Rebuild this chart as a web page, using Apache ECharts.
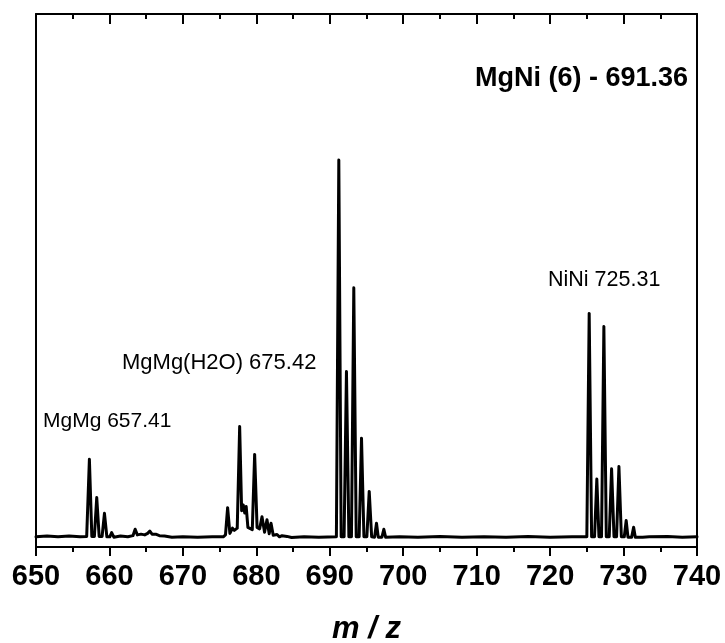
<!DOCTYPE html>
<html>
<head>
<meta charset="utf-8">
<title>MgNi (6) mass spectrum</title>
<script src="https://cdn.jsdelivr.net/npm/echarts@6/dist/echarts.min.js"></script>
<style>
  html, body { margin: 0; padding: 0; background: #ffffff; }
  #chart { width: 725px; height: 643px; }
</style>
</head>
<body>
<div id="chart"></div>
<script>
// m/z axis ticks
const mzTicks = [650, 660, 670, 680, 690, 700, 710, 720, 730, 740];

// Spectrum profile, [m/z, relative intensity], one array per region
const baselineStart = [[650.0, 0.3], [651.5, 0.5], [653.0, 0.3], [654.5, 0.5], [656.0, 0.3]];
const clusterMgMg = [
  [656.9, 0.4], [657.27, 20.8], [657.6, 0.4], [657.95, 0.4], [658.27, 10.7], [658.6, 0.4],
  [659.0, 0.4], [659.32, 6.5], [659.65, 0.3], [660.05, 0.3], [660.3, 1.4], [660.6, 0.2],
  [661.5, 0.5], [662.5, 0.3], [663.2, 0.6], [663.5, 2.3], [663.8, 0.8], [664.3, 1.0],
  [664.8, 0.8], [665.2, 1.2], [665.5, 1.8], [665.8, 1.0], [666.3, 1.0], [666.8, 0.6],
  [667.5, 0.5], [668.5, 0.2]
];
const baselineMid1 = [[670.0, 0.3], [672.0, 0.2], [674.0, 0.3]];
const clusterMgMgH2O = [
  [675.5, 0.3], [675.8, 0.8], [676.09, 8.0], [676.4, 1.2], [676.75, 2.6], [677.0, 2.0],
  [677.4, 2.6], [677.73, 29.5], [678.0, 7.2], [678.22, 8.7], [678.42, 6.6], [678.62, 8.3],
  [678.85, 2.8], [679.45, 2.2], [679.77, 22.1], [680.1, 2.8], [680.45, 2.4], [680.77, 5.6],
  [681.12, 1.5], [681.45, 4.8], [681.75, 1.1], [682.0, 3.9], [682.3, 0.7], [682.82, 0.9],
  [683.15, 0.3], [683.5, 0.6], [684.18, 0.4], [684.8, 0.1]
];
const baselineMid2 = [[686.5, 0.3], [688.5, 0.2]];
const clusterMgNi = [
  [690.9, 0.3], [691.23, 100.0], [691.55, 0.3], [691.95, 0.3], [692.27, 44.0], [692.6, 0.3],
  [692.95, 0.3], [693.27, 66.2], [693.6, 0.3], [694.0, 0.3], [694.32, 26.4], [694.65, 0.3],
  [695.05, 0.3], [695.37, 12.3], [695.7, 0.3], [696.1, 0.2], [696.36, 3.9], [696.6, 0.2],
  [697.1, 0.2], [697.36, 2.3], [697.6, 0.2]
];
const baselineMid3 = [
  [699.5, 0.3], [702.0, 0.2], [705.0, 0.4], [708.0, 0.2], [711.0, 0.3], [714.0, 0.2],
  [717.0, 0.4], [720.0, 0.2], [723.0, 0.3]
];
const clusterNiNi = [
  [725.0, 0.3], [725.32, 59.4], [725.65, 0.3], [726.05, 0.3], [726.36, 15.6], [726.65, 0.3],
  [727.0, 0.3], [727.32, 55.9], [727.65, 0.3], [728.05, 0.3], [728.37, 18.3], [728.7, 0.3],
  [729.05, 0.3], [729.37, 18.9], [729.7, 0.3], [730.1, 0.3], [730.36, 4.6], [730.6, 0.2],
  [731.1, 0.2], [731.37, 2.8], [731.6, 0.2], [732.2, 0.2], [732.37, 0.6], [732.6, 0.2]
];
const baselineEnd = [[733.5, 0.3], [736.0, 0.4], [738.0, 0.2], [740.0, 0.3]];

// Peak annotations
const titleText = 'MgNi (6) - 691.36';
const peakLabels = ['MgMg 657.41', 'MgMg(H2O) 675.42', 'NiNi 725.31'];

const spectrum = [].concat(
  baselineStart, clusterMgMg, baselineMid1, clusterMgMgH2O,
  baselineMid2, clusterMgNi, baselineMid3, clusterNiNi, baselineEnd
);

const FONT = "'Liberation Sans', Arial, Helvetica, sans-serif";
const chart = echarts.init(document.getElementById('chart'), null, { renderer: 'canvas' });

const frameLine = { show: true, onZero: false, lineStyle: { color: '#000', width: 2 } };

chart.setOption({
  backgroundColor: '#ffffff',
  animation: false,
  grid: { left: 36, right: 28, top: 14, bottom: 96, containLabel: false, outerBoundsMode: 'none' },
  xAxis: [
    {
      type: 'value',
      position: 'bottom',
      min: mzTicks[0],
      max: mzTicks[mzTicks.length - 1],
      interval: mzTicks[1] - mzTicks[0],
      name: 'm / z',
      nameLocation: 'middle',
      nameGap: 67,
      nameTextStyle: { fontFamily: FONT, fontSize: 31, fontWeight: 'bold', fontStyle: 'italic', color: '#000' },
      axisLine: frameLine,
      axisTick: { show: true, inside: false, length: 9, lineStyle: { color: '#000', width: 2 } },
      minorTick: { show: true, splitNumber: 2, length: 5, lineStyle: { color: '#000', width: 2 } },
      axisLabel: {
        show: true, margin: 15, fontFamily: FONT, fontSize: 29, fontWeight: 'bold', color: '#000',
        showMinLabel: true, showMaxLabel: true
      },
      splitLine: { show: false }
    },
    {
      type: 'value',
      position: 'top',
      min: mzTicks[0],
      max: mzTicks[mzTicks.length - 1],
      interval: mzTicks[1] - mzTicks[0],
      axisLine: frameLine,
      axisTick: { show: true, inside: true, length: 10, lineStyle: { color: '#000', width: 2 } },
      minorTick: { show: true, splitNumber: 2, length: 5, lineStyle: { color: '#000', width: 2 } },
      axisLabel: { show: false },
      splitLine: { show: false }
    }
  ],
  yAxis: [
    {
      type: 'value', position: 'left', min: -2.4, max: 138.6,
      axisLine: frameLine, axisTick: { show: false }, axisLabel: { show: false }, splitLine: { show: false }
    },
    {
      type: 'value', position: 'right', min: -2.4, max: 138.6,
      axisLine: frameLine, axisTick: { show: false }, axisLabel: { show: false }, splitLine: { show: false }
    }
  ],
  series: [
    {
      type: 'line',
      xAxisIndex: 0,
      yAxisIndex: 0,
      data: spectrum,
      showSymbol: false,
      symbol: 'none',
      silent: true,
      clip: true,
      lineStyle: { color: '#000', width: 3, join: 'round', cap: 'round' }
    }
  ],
  graphic: [
    {
      type: 'text', right: 37, top: 65,
      style: { text: titleText, fontFamily: FONT, fontSize: 27, fontWeight: 'bold', fill: '#000' }
    },
    {
      type: 'text', left: 43, top: 411,
      style: { text: peakLabels[0], fontFamily: FONT, fontSize: 21, fill: '#000' }
    },
    {
      type: 'text', left: 122, top: 352,
      style: { text: peakLabels[1], fontFamily: FONT, fontSize: 22, fill: '#000' }
    },
    {
      type: 'text', left: 548, top: 269,
      style: { text: peakLabels[2], fontFamily: FONT, fontSize: 21.5, fill: '#000' }
    }
  ]
});
</script>
</body>
</html>
